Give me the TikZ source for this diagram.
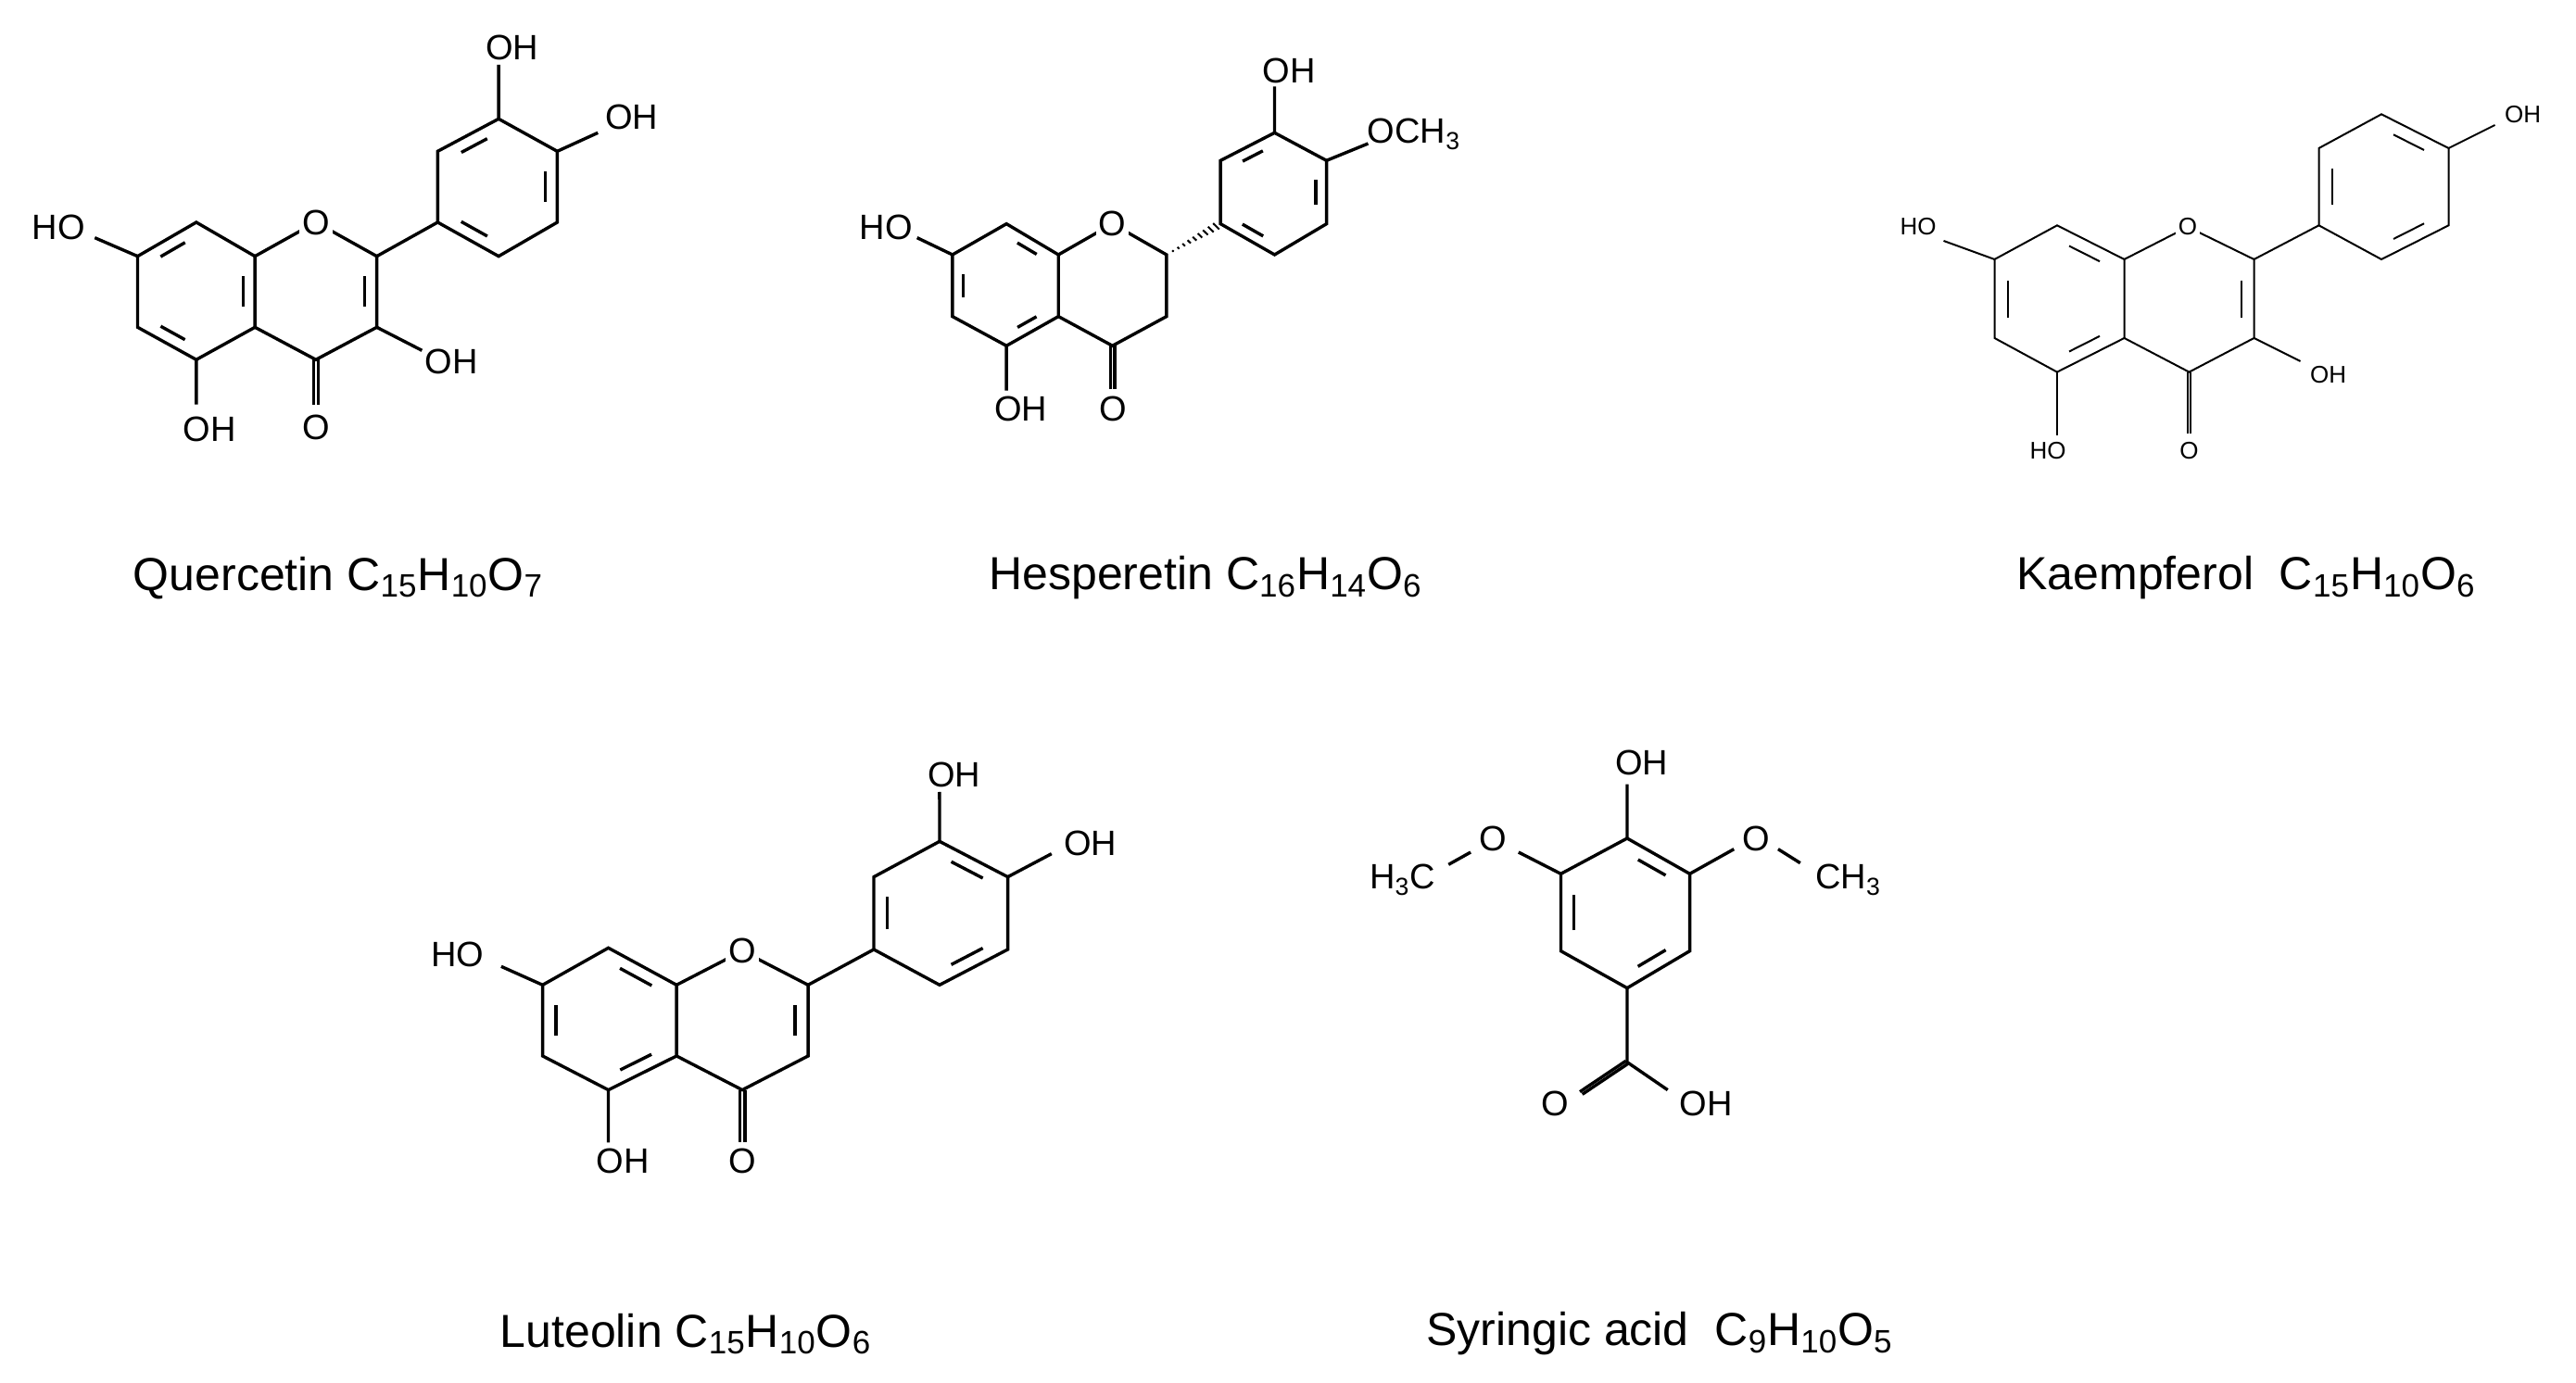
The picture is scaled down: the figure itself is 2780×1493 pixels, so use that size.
\documentclass[tikz,border=0pt]{standalone}
\usepackage{fontspec}
\setmainfont{Liberation Sans}
\usetikzlibrary{calc}
\newcommand\dbl[3]{\draw[shorten <=7pt,shorten >=7pt] ($(#3)!0.8!(#1)$) -- ($(#3)!0.8!(#2)$);}
\newcommand\pairline[2]{\draw ($(#1)!2.6pt!90:(#2)$) -- ($(#2)!2.6pt!-90:(#1)$); \draw ($(#1)!2.6pt!-90:(#2)$) -- ($(#2)!2.6pt!90:(#1)$);}
\tikzset{lab/.style={font=\fontsize{19}{19}\selectfont, inner sep=0pt},
  klab/.style={font=\fontsize{13}{13}\selectfont, inner sep=0pt},
  ringO/.style={fill=white, inner sep=1.5pt},
  capt/.style={font=\fontsize{25}{25}\selectfont, inner sep=0pt}}
\begin{document}
\begin{tikzpicture}[x=0.5pt,y=-0.5pt,line width=1.7pt,line join=miter]
\useasboundingbox (0,0) rectangle (2780,1493);
% ---------------- Quercetin
\begin{scope}[shift={(0,20)},xscale=0.487,yscale=0.3333]
\coordinate (qa1) at (435,660); \coordinate (qa2) at (565,770); \coordinate (qa3) at (565,1000);
\coordinate (qa4) at (435,1105); \coordinate (qa5) at (305,1000); \coordinate (qa6) at (305,770);
\coordinate (qO) at (700,660); \coordinate (qC2) at (835,770); \coordinate (qC3) at (835,1000); \coordinate (qC4) at (700,1105);
\coordinate (qb1) at (970,660); \coordinate (qb2) at (970,430); \coordinate (qb3) at (1105,325);
\coordinate (qb4) at (1235,430); \coordinate (qb5) at (1235,660); \coordinate (qb6) at (1105,770);
\coordinate (qcA) at (435,882); \coordinate (qcC) at (700,882); \coordinate (qcB) at (1105,547);
\coordinate (qOk) at (700,1250);
\draw (qa1)--(qa2)--(qa3)--(qa4)--(qa5)--(qa6)--cycle;
\draw (qa2)--(qO)--(qC2)--(qC3)--(qC4)--(qa3);
\draw (qb1)--(qb2)--(qb3)--(qb4)--(qb5)--(qb6)--cycle;
\draw (qC2)--(qb1);
\dbl{qa6}{qa1}{qcA} \dbl{qa2}{qa3}{qcA} \dbl{qa4}{qa5}{qcA}
\dbl{qC2}{qC3}{qcC}
\dbl{qb2}{qb3}{qcB} \dbl{qb4}{qb5}{qcB} \dbl{qb6}{qb1}{qcB}
\pairline{qC4}{qOk}
\draw (qC3)--(935,1075); \draw (qa4)--(435,1250); \draw (qa6)--(210,710);
\draw (qb3)--(1105,150); \draw (qb4)--(1325,370);
\node[lab,ringO] at (qO) {O};
\node[lab] at (700,1325) {O};
\node[lab] at (1000,1110) {OH};
\node[lab] at (465,1330) {OH};
\node[lab] at (130,675) {HO};
\node[lab] at (1135,95) {OH};
\node[lab] at (1400,320) {OH};
\end{scope}
\node[capt] (qcap) at (365,624) {Quercetin C\textsubscript{15}H\textsubscript{10}O\textsubscript{7}};
% ---------------- Hesperetin
\begin{scope}[shift={(900,40)},xscale=0.4486,yscale=0.3333]
\coordinate (ha1) at (415,605); \coordinate (ha2) at (540,705); \coordinate (ha3) at (540,905);
\coordinate (ha4) at (415,1000); \coordinate (ha5) at (285,905); \coordinate (ha6) at (285,705);
\coordinate (hO) at (670,605); \coordinate (hC2) at (800,705); \coordinate (hC3) at (800,905); \coordinate (hC4) at (670,1000);
\coordinate (hb1) at (930,605); \coordinate (hb2) at (930,400); \coordinate (hb3) at (1060,310);
\coordinate (hb4) at (1185,400); \coordinate (hb5) at (1185,605); \coordinate (hb6) at (1060,705);
\coordinate (hcA) at (412,805); \coordinate (hcB) at (1058,507);
\coordinate (hOk) at (670,1140);
\draw (ha1)--(ha2)--(ha3)--(ha4)--(ha5)--(ha6)--cycle;
\draw (ha2)--(hO)--(hC2)--(hC3)--(hC4)--(ha3);
\draw (hb1)--(hb2)--(hb3)--(hb4)--(hb5)--(hb6)--cycle;
\dbl{ha1}{ha2}{hcA} \dbl{ha3}{ha4}{hcA} \dbl{ha5}{ha6}{hcA}
\dbl{hb2}{hb3}{hcB} \dbl{hb4}{hb5}{hcB} \dbl{hb6}{hb1}{hcB}
\pairline{hC4}{hOk}
\foreach \t in {0.12,0.22,...,0.95} {
  \pgfmathsetmacro\w{0.6+\t*6}
  \path ($(hC2)!\t!(hb1)$) coordinate (hh);
  \draw[line width=1pt] ($(hh)!\w pt!90:(hb1)$) -- ($(hh)!\w pt!-90:(hb1)$);
}
\draw (ha4)--(415,1145); \draw (ha6)--(200,650);
\draw (hb3)--(1060,160); \draw (hb4)--(1285,345);
\node[lab,ringO] at (hO) {O};
\node[lab] at (672,1205) {O};
\node[lab] at (450,1205) {OH};
\node[lab] at (125,615) {HO};
\node[lab] at (1095,110) {OH};
\node[lab,anchor=west] at (1280,315) {OCH\textsubscript{3}};
\end{scope}
\node[capt] (hcap) at (1301,624) {Hesperetin C\textsubscript{16}H\textsubscript{14}O\textsubscript{6}};
% ---------------- Kaempferol
\begin{scope}[shift={(2000,60)},xscale=0.5,yscale=0.3333,line width=1pt]
\coordinate (ka1) at (440,550); \coordinate (ka2) at (585,660); \coordinate (ka3) at (585,915);
\coordinate (ka4) at (440,1025); \coordinate (ka5) at (305,915); \coordinate (ka6) at (305,660);
\coordinate (kO) at (722,555); \coordinate (kC2) at (865,660); \coordinate (kC3) at (865,915); \coordinate (kC4) at (725,1025);
\coordinate (kb1) at (1005,550); \coordinate (kb2) at (1005,300); \coordinate (kb3) at (1140,190);
\coordinate (kb4) at (1285,300); \coordinate (kb5) at (1285,550); \coordinate (kb6) at (1140,660);
\coordinate (kcA) at (445,788); \coordinate (kcC) at (725,788); \coordinate (kcB) at (1145,425);
\coordinate (kOk) at (725,1225);
\draw (ka1)--(ka2)--(ka3)--(ka4)--(ka5)--(ka6)--cycle;
\draw (ka2)--(kO)--(kC2)--(kC3)--(kC4)--(ka3);
\draw (kb1)--(kb2)--(kb3)--(kb4)--(kb5)--(kb6)--cycle;
\draw (kC2)--(kb1);
\dbl{ka1}{ka2}{kcA} \dbl{ka3}{ka4}{kcA} \dbl{ka5}{ka6}{kcA}
\dbl{kC2}{kC3}{kcC}
\dbl{kb1}{kb2}{kcB} \dbl{kb3}{kb4}{kcB} \dbl{kb5}{kb6}{kcB}
\draw ($(kC4)+(-1.6pt,0)$)--($(kOk)+(-1.6pt,0)$); \draw ($(kC4)+(1.6pt,0)$)--($(kOk)+(1.6pt,0)$);
\draw (kC3)--(965,990); \draw (ka4)--(440,1230); \draw (ka6)--(195,600);
\draw (kb4)--(1385,225);
\node[klab,ringO] at (kO) {O};
\node[klab] at (725,1280) {O};
\node[klab] at (1025,1035) {OH};
\node[klab] at (420,1280) {HO};
\node[klab] at (140,555) {HO};
\node[klab] at (1445,190) {OH};
\end{scope}
\node[capt] (kcap) at (2424,624) {Kaempferol\ \ C\textsubscript{15}H\textsubscript{10}O\textsubscript{6}};
% ---------------- Luteolin
\begin{scope}[shift={(420,780)},xscale=0.5256,yscale=0.3333]
\coordinate (la1) at (450,730); \coordinate (la2) at (590,850); \coordinate (la3) at (590,1080);
\coordinate (la4) at (450,1190); \coordinate (la5) at (315,1080); \coordinate (la6) at (315,850);
\coordinate (lO) at (725,740); \coordinate (lC2) at (860,850); \coordinate (lC3) at (860,1080); \coordinate (lC4) at (725,1190);
\coordinate (lb1) at (995,735); \coordinate (lb2) at (995,500); \coordinate (lb3) at (1130,385);
\coordinate (lb4) at (1270,500); \coordinate (lb5) at (1270,735); \coordinate (lb6) at (1130,850);
\coordinate (lcA) at (452,960); \coordinate (lcC) at (725,965); \coordinate (lcB) at (1132,617);
\coordinate (lOk) at (725,1360);
\draw (la1)--(la2)--(la3)--(la4)--(la5)--(la6)--cycle;
\draw (la2)--(lO)--(lC2)--(lC3)--(lC4)--(la3);
\draw (lb1)--(lb2)--(lb3)--(lb4)--(lb5)--(lb6)--cycle;
\draw (lC2)--(lb1);
\dbl{la1}{la2}{lcA} \dbl{la3}{la4}{lcA} \dbl{la5}{la6}{lcA}
\dbl{lC2}{lC3}{lcC}
\dbl{lb1}{lb2}{lcB} \dbl{lb3}{lb4}{lcB} \dbl{lb5}{lb6}{lcB}
\pairline{lC4}{lOk}
\draw (la4)--(450,1360); \draw (la6)--(230,790);
\draw (lb3)--(1130,225); \draw (lb4)--(1360,425);
\node[lab,ringO] at (lO) {O};
\node[lab] at (725,1420) {O};
\node[lab] at (480,1420) {OH};
\node[lab] at (140,750) {HO};
\node[lab] at (1160,170) {OH};
\node[lab] at (1440,390) {OH};
\end{scope}
\node[capt] (lcap) at (740,1440) {Luteolin C\textsubscript{15}H\textsubscript{10}O\textsubscript{6}};
% ---------------- Syringic acid
\begin{scope}[shift={(1450,780)},xscale=0.3974,yscale=0.3333]
\coordinate (sr1) at (770,375); \coordinate (sr2) at (940,490); \coordinate (sr3) at (940,740);
\coordinate (sr4) at (770,860); \coordinate (sr5) at (590,740); \coordinate (sr6) at (590,490);
\coordinate (scR) at (765,617);
\coordinate (sc) at (770,1100); \coordinate (sOd) at (645,1200); \coordinate (sOh) at (880,1190);
\draw (sr1)--(sr2)--(sr3)--(sr4)--(sr5)--(sr6)--cycle;
\dbl{sr1}{sr2}{scR} \dbl{sr3}{sr4}{scR} \dbl{sr5}{sr6}{scR}
\draw (sr1)--(770,200);
\draw (sr6)--(475,420); \draw (345,420)--(285,460);
\draw (sr2)--(1060,410); \draw (1180,410)--(1240,455);
\draw (sr4)--(sc)--(sOh);
\pairline{sc}{sOd}
\node[lab] at (810,130) {OH};
\node[lab] at (405,375) {O};
\node[lab] at (160,510) {H\textsubscript{3}C};
\node[lab] at (1120,375) {O};
\node[lab] at (1370,510) {CH\textsubscript{3}};
\node[lab] at (575,1235) {O};
\node[lab] at (985,1235) {OH};
\end{scope}
\node[capt] (scap) at (1791,1440) {Syringic acid\ \ C\textsubscript{9}H\textsubscript{10}O\textsubscript{5}};
\end{tikzpicture}
\end{document}
